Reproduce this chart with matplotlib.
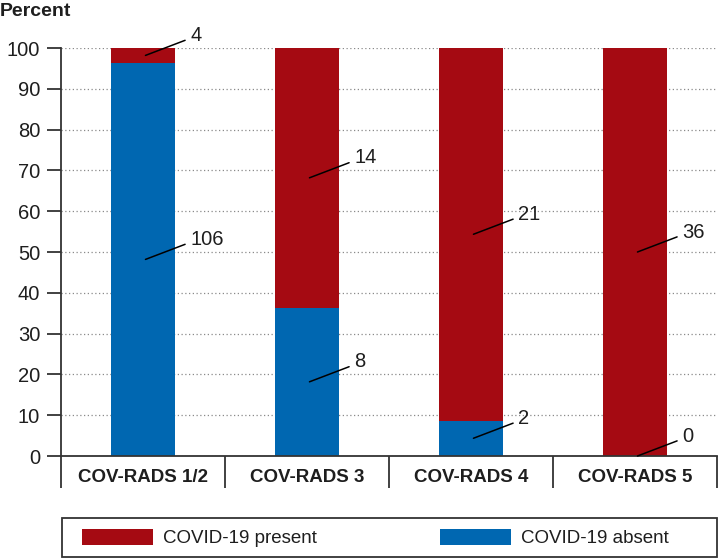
import numpy as np
import matplotlib
matplotlib.use('Agg')
import matplotlib.pyplot as plt
from matplotlib.patches import Rectangle

plt.rcParams['font.family'] = ['Liberation Sans', 'DejaVu Sans']

# data: number of patients per COV-RADS category
categories = ['COV-RADS 1/2', 'COV-RADS 3', 'COV-RADS 4', 'COV-RADS 5']
absent_n = [106, 8, 2, 0]
present_n = [4, 14, 21, 36]
yticks = [0, 10, 20, 30, 40, 50, 60, 70, 80, 90, 100]

RED = '#a50a12'
BLUE = '#0067b1'
DARK = '#333333'
TXT = '#1e1e1e'

absent_n = np.array(absent_n)
present_n = np.array(present_n)
total = absent_n + present_n
absent_pct = absent_n / total * 100
present_pct = present_n / total * 100
x = np.arange(len(categories))

fig = plt.figure(figsize=(7.18, 5.58), dpi=100)
ax = fig.add_axes([61/718, 1 - 456/558, 656/718, 408/558])

b_abs = ax.bar(x, absent_pct, width=0.39, color=BLUE, label='COVID-19 absent', zorder=2)
b_pre = ax.bar(x, present_pct, bottom=absent_pct, width=0.39, color=RED,
               label='COVID-19 present', zorder=2)

ax.set_xlim(-0.5, len(categories) - 0.5)
ax.set_ylim(0, 100)

# spines
ax.spines['top'].set_visible(False)
ax.spines['right'].set_visible(False)
for s in ['left', 'bottom']:
    ax.spines[s].set_color(DARK)
    ax.spines[s].set_linewidth(1.3)

# y axis
ax.set_yticks(yticks)
ax.tick_params(axis='y', length=10, width=1.3, color=DARK, pad=5,
               labelsize=14.5, labelcolor=TXT)
ax.yaxis.grid(True, linestyle=(0, (1, 2)), color='#8a8a8a', linewidth=0.9)
ax.set_axisbelow(True)

# x axis: dividers as major ticks, labels as minor ticks
ax.set_xticks(np.arange(len(categories) + 1) - 0.5)
ax.set_xticklabels([])
ax.set_xticks(x, minor=True)
ax.set_xticklabels(categories, minor=True, fontweight='bold')
ax.tick_params(axis='x', which='major', length=23, width=1.3, color=DARK)
ax.tick_params(axis='x', which='minor', length=0, pad=9.5, labelsize=13.5,
               labelcolor=TXT)

# count annotations
for i in range(len(categories)):
    for n, mid in [(present_n[i], absent_pct[i] + present_pct[i] / 2),
                   (absent_n[i], absent_pct[i] / 2)]:
        ax.annotate(str(n), xy=(i + 0.015, mid), xytext=(45, 20),
                    textcoords='offset pixels', ha='left', va='center',
                    fontsize=14.5, color=TXT,
                    arrowprops=dict(arrowstyle='-', color='black', lw=1.1,
                                    relpos=(0, 0.35), shrinkA=2, shrinkB=0))

fig.text(0.0, 1 - 16/558, 'Percent', fontsize=14, fontweight='bold',
         color=TXT, ha='left', va='baseline')

# legend
fig.add_artist(Rectangle((62/718, 1 - 557/558), 655/718, 39/558,
                         transform=fig.transFigure, fill=False,
                         edgecolor=DARK, linewidth=1.3))
fig.legend(handles=[b_pre, b_abs], labels=['COVID-19 present', 'COVID-19 absent'],
           loc='center left', bbox_to_anchor=(82/718, 1 - 538/558), ncol=2,
           frameon=False, fontsize=13.5, handlelength=3.79, handleheight=0.96,
           handletextpad=0.53, columnspacing=6.56, borderpad=0, borderaxespad=0,
           labelcolor=TXT)

fig.savefig('out.png', dpi=100)
